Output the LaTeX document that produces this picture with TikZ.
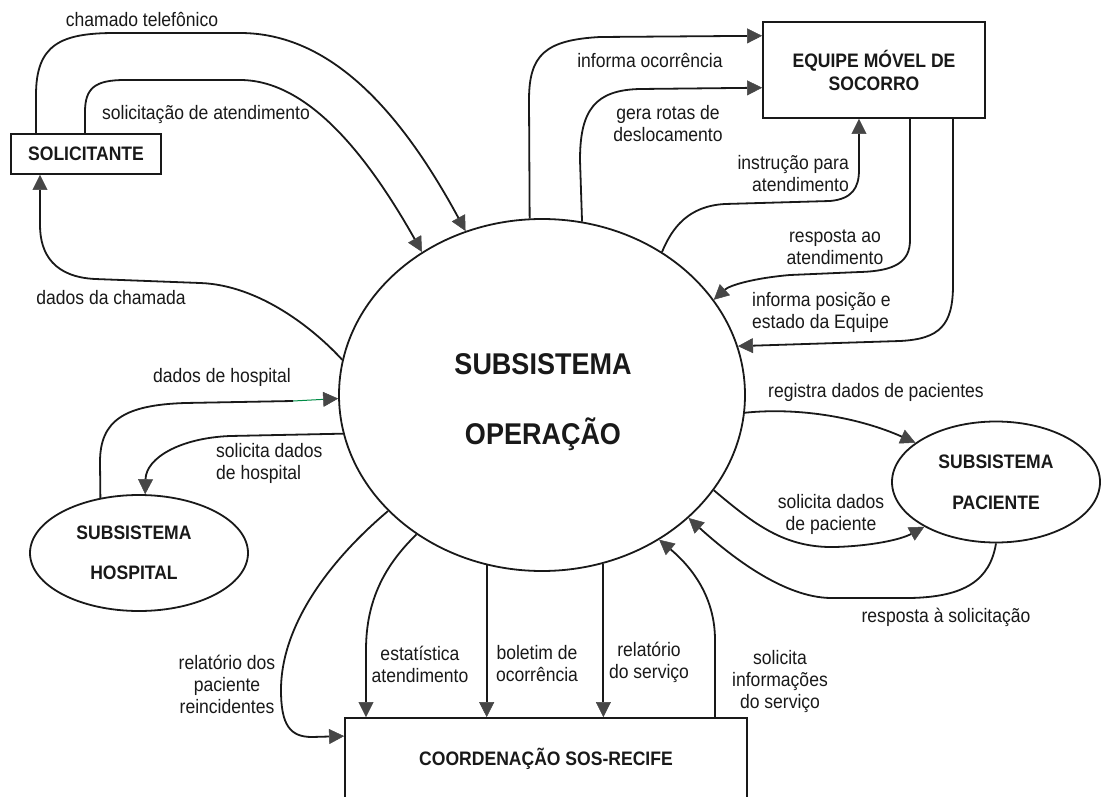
\documentclass[tikz,border=0pt]{standalone}
\usepackage{fontspec}
\setmainfont{Liberation Sans}[FakeStretch=0.9]
\usetikzlibrary{shapes.geometric,arrows.meta}
\definecolor{ink}{RGB}{25,25,25}
\definecolor{tipgray}{RGB}{70,70,70}
\definecolor{wire}{RGB}{0,140,70}
\tikzset{
  flow/.style={draw=ink, line width=1.8pt, line join=round,
    -{Triangle[length=15pt,width=15pt,color=tipgray,line width=0.5pt]}},
  plain/.style={draw=ink, line width=1.8pt, line join=round},
  lbl/.style={inner sep=0pt, text=ink, font=\fontsize{19.5}{22}\selectfont},
  boxnode/.style={draw=ink, line width=1.8pt, inner sep=0pt, text=ink, align=center,
    font=\bfseries\fontsize{19.5}{23}\selectfont},
  ellnode/.style={ellipse, draw=ink, line width=1.8pt, inner sep=0pt, text=ink, align=center},
}
\begin{document}
\begin{tikzpicture}[x=1pt,y=-1pt]
\useasboundingbox (0,0) rectangle (1101,797);
\clip (0,0) rectangle (1101,797);
\fill[white] (0,0) rectangle (1101,797);

% external entities and subsystems
\node[boxnode, minimum width=150pt, minimum height=40pt] (sol) at (86,154) {SOLICITANTE};
\node[boxnode, minimum width=222pt, minimum height=96pt] (eq) at (874,70) {EQUIPE MÓVEL DE\\SOCORRO};
\node[boxnode, minimum width=402pt, minimum height=82pt] (co) at (546,759) {COORDENAÇÃO SOS-RECIFE};
\node[ellnode, minimum width=406pt, minimum height=352pt] (op) at (542,395) {};
\node[inner sep=0pt, text=ink, align=center, font=\bfseries\fontsize{30}{70}\selectfont] (optitle) at (543,402) {SUBSISTEMA\\OPERAÇÃO};
\node[ellnode, minimum width=218pt, minimum height=116pt, font=\bfseries\fontsize{19.5}{40}\selectfont] (hos) at (139,553) {\hspace*{-10pt}SUBSISTEMA\\\hspace*{-10pt}HOSPITAL};
\node[ellnode, minimum width=208pt, minimum height=121pt, font=\bfseries\fontsize{19.5}{41}\selectfont] (pac) at (996,482) {SUBSISTEMA\\PACIENTE};

% flows with the requester
\draw[flow] ([xshift=-50pt]sol.north) -- (36,95) .. controls (36,45) and (60,33) .. (115,33) -- (240,33) .. controls (330,33) and (400,110) .. (op.115);
\draw[flow] ([xshift=-1pt]sol.north) -- (85,112) .. controls (85,88) and (95,80) .. (125,80) -- (240,80) .. controls (310,80) and (370,160) .. (op.130);
\draw[flow] (op.170) .. controls (315,330) and (260,285) .. (200,283) -- (95,279) .. controls (55,277) and (40,255) .. (40,225) -- ([xshift=-46pt]sol.south);

% flows with the rescue team
\draw[flow] (op.94) -- (529,100) .. controls (529,55) and (545,40) .. (600,37) -- (eq.163.4);
\draw[flow] (op.77.6) -- (580,160) .. controls (580,110) and (595,90) .. (640,89) -- (eq.189.7);
\draw[flow] (op.50) .. controls (672,228) and (688,206) .. (725,204) -- (830,201) .. controls (852,199) and (859,188) .. (859,170) -- ([xshift=-15pt]eq.south);
\draw[flow] ([xshift=36pt]eq.south) -- (910,240) .. controls (910,262) and (895,271) .. (860,272) -- (790,275) .. controls (755,278) and (730,285) .. (op.29.5);
\draw[flow] ([xshift=79pt]eq.south) -- (953,285) .. controls (953,325) and (940,339) .. (900,341) -- (op.14.9);

% flows with the hospital subsystem
\coordinate (hgreen) at (293,401);
\draw[plain] (hos.125.7) -- (100,462) .. controls (100,420) and (125,405) .. (185,403) -- (hgreen);
\draw[flow, draw=wire, line width=1pt] (hgreen) -- (op.181.4);
\draw[flow] (op.191) -- (230,436) .. controls (180,438) and (146,458) .. (hos.84);

% flows with the patient subsystem
\draw[flow] (op.355.2) .. controls (800,407) and (860,418) .. (pac.154.8);
\draw[flow] (op.331) .. controls (755,525) and (785,548) .. (835,547) .. controls (870,546) and (900,540) .. (pac.212.3);
\draw[flow] (pac.270) .. controls (990,580) and (965,597) .. (910,598) -- (830,598) .. controls (785,597) and (735,560) .. (op.320.4);

% flows with the coordination
\draw[flow] (op.217.3) .. controls (330,560) and (281,625) .. (281,690) .. controls (281,725) and (290,737) .. (312,737) -- ([yshift=-19pt]co.north west);
\draw[flow] (op.228.8) .. controls (385,565) and (366,600) .. (366,650) -- ([xshift=-180pt]co.north);
\draw[flow] (op.252) -- (op.252 |- co.north);
\draw[flow] (op.290.3) -- (op.290.3 |- co.north);
\draw[flow] ([xshift=169pt]co.north) -- (715,640) .. controls (715,600) and (695,570) .. (op.309);

% flow labels
\node[lbl] (t1) at (142,19) {chamado telefônico};
\node[lbl] (t2) at (206,115) {solicitação de atendimento};
\node[lbl] (t3) at (111,298) {dados da chamada};
\node[lbl] (t4) at (650,60) {informa ocorrência};
\node[lbl, align=center] (t5) at (668,124) {gera rotas de\\deslocamento};
\node[lbl, align=right, anchor=east] (t6) at (849,173.5) {instrução para\\atendimento};
\node[lbl, align=center] (t7) at (835,247.5) {resposta ao\\atendimento};
\node[lbl, align=left, anchor=west] (t8) at (752,312.5) {informa posição e\\estado da Equipe};
\node[lbl] (t9) at (222,377) {dados de hospital};
\node[lbl, align=left, anchor=west] (t10) at (216,463.5) {solicita dados\\de hospital};
\node[lbl] (t11) at (876,392) {registra dados de pacientes};
\node[lbl, align=center] (t12) at (831,514.5) {solicita dados\\de paciente};
\node[lbl] (t13) at (946,617) {resposta à solicitação};
\node[lbl, align=center] (t14) at (227,684.5) {relatório dos\\paciente\\reincidentes};
\node[lbl, align=center] (t15) at (420,664) {estatística\\atendimento};
\node[lbl, align=center] (t16) at (537,664) {boletim de\\ocorrência};
\node[lbl, align=center] (t17) at (649,662.5) {relatório\\do serviço};
\node[lbl, align=center] (t18) at (780,681) {solicita\\informações\\do serviço};
\end{tikzpicture}
\end{document}
